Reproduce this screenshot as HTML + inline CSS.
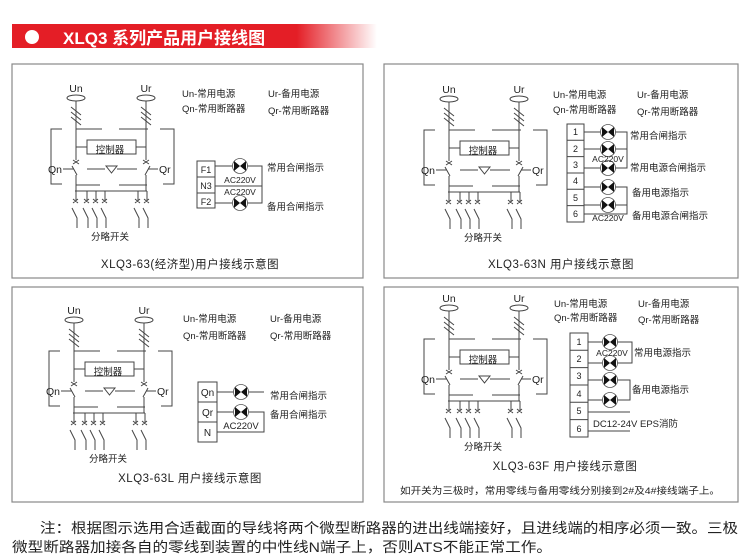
<!DOCTYPE html>
<html><head><meta charset="utf-8"><style>
html,body{margin:0;padding:0;background:#fff;}
svg{display:block;}
text{font-family:"Liberation Sans","Noto Sans CJK SC",sans-serif;fill:#222;}
</style></head><body>
<svg width="750" height="558" viewBox="0 0 750 558" xmlns="http://www.w3.org/2000/svg">
<defs>
<linearGradient id="rg" x1="0" x2="1">
<stop offset="0" stop-color="#e41e26"/><stop offset="0.78" stop-color="#e41e26"/><stop offset="1" stop-color="#fff"/>
</linearGradient>
<symbol id="circ" overflow="visible">
<g stroke="#444" stroke-width="1" fill="none">
<ellipse cx="76" cy="98" rx="9" ry="3"/>
<ellipse cx="146" cy="98" rx="9" ry="3"/>
<line x1="76" y1="101" x2="76" y2="160"/>
<line x1="146" y1="101" x2="146" y2="160"/>
<path d="M71 107 L81 115 M71 112 L81 120 M71 117 L81 125"/>
<path d="M141 107 L151 115 M141 112 L151 120 M141 117 L151 125"/>
<path d="M62 129 H51 V184 H62 M76 129 H102 M119 129 H148 M160 129 H174 V184 H163 M76 185 H100 M119 185 H147"/>
<rect x="87" y="140" width="49" height="14"/>
<line x1="76" y1="147" x2="87" y2="147"/><line x1="136" y1="147" x2="146" y2="147"/>
<path d="M73 160 l6 4 M79 160 l-6 4 M143 160 l6 4 M149 160 l-6 4"/>
<path d="M72 166 L77 175 M63 169 H74 M76 175 V191"/>
<path d="M150 166 L145 175 M148 169 H158 M146 175 V191"/>
<path d="M87 169 H105 M117 169 H137"/>
<polygon points="106,166 117,166 111.5,173"/>
<line x1="75" y1="191" x2="147" y2="191"/>
<path d="M76 191 V200 M87 191 V200 M96 191 V200 M105 191 V200 M138 191 V200 M147 191 V200"/>
<path d="M73 199 l5 4 M78 199 l-5 4 M84 199 l5 4 M89 199 l-5 4 M93 199 l5 4 M98 199 l-5 4 M102 199 l5 4 M107 199 l-5 4 M135 199 l5 4 M140 199 l-5 4 M144 199 l5 4 M149 199 l-5 4"/>
<path d="M72 208 L77 218 V228 M83 208 L88 218 V228 M92 208 L97 218 V228 M101 208 L106 218 V228 M134 208 L139 218 V228 M143 208 L148 218 V228"/>
</g>
</symbol>
<symbol id="lamp" overflow="visible">
<circle cx="0" cy="0" r="7.5" fill="#fff" stroke="#555" stroke-width="0.8"/>
<polygon points="-6,-5 0,0 -6,5" fill="#111"/><polygon points="6,-5 0,0 6,5" fill="#111"/>
</symbol>
</defs>

<!-- header -->
<rect x="12" y="24" width="365" height="24" fill="url(#rg)"/>
<circle cx="32" cy="37" r="7" fill="#fff"/>
<text x="63" y="44" font-size="17" font-weight="bold" style="fill:#fff">XLQ3 系列产品用户接线图</text>

<!-- panels -->
<g fill="none" stroke="#888" stroke-width="1.2">
<rect x="12" y="64" width="351" height="214"/>
<rect x="384" y="64" width="354" height="214"/>
<rect x="12" y="287" width="351" height="215"/>
<rect x="384" y="287" width="354" height="215"/>
</g>

<!-- Panel 1 -->
<use href="#circ" x="0" y="0"/>
<g font-size="10.5">
<text x="76" y="92" text-anchor="middle">Un</text>
<text x="146" y="92" text-anchor="middle">Ur</text>
<text x="110" y="153" text-anchor="middle" font-size="9.5">控制器</text>
<text x="62" y="173" text-anchor="end">Qn</text>
<text x="159" y="173">Qr</text>
<text x="110" y="240" text-anchor="middle" font-size="9.5">分略开关</text>
<text x="182" y="97" font-size="9.5">Un-常用电源</text>
<text x="182" y="112" font-size="9.5">Qn-常用断路器</text>
<text x="268" y="97" font-size="9.5">Ur-备用电源</text>
<text x="268" y="114" font-size="9.5">Qr-常用断路器</text>
<text x="190" y="268" text-anchor="middle" font-size="11.5" letter-spacing="0.5">XLQ3-63(经济型)用户接线示意图</text>
</g>
<g stroke="#444" fill="none">
<rect x="197" y="161" width="18" height="47"/>
<path d="M197 177 H215 M197 193 H215"/>
<path d="M215 166 H262 V203 H215 M215 186 H262"/>
</g>
<use href="#lamp" x="240" y="166"/><use href="#lamp" x="240" y="203"/>
<g font-size="9">
<text x="206" y="173" text-anchor="middle">F1</text>
<text x="206" y="189" text-anchor="middle">N3</text>
<text x="206" y="205" text-anchor="middle">F2</text>
<text x="240" y="183" text-anchor="middle" font-size="8.5">AC220V</text>
<text x="240" y="195" text-anchor="middle" font-size="8.5">AC220V</text>
<text x="267" y="171" font-size="9.5">常用合闸指示</text>
<text x="267" y="210" font-size="9.5">备用合闸指示</text>
</g>

<!-- Panel 2 -->
<use href="#circ" x="373" y="1"/>
<g font-size="10.5">
<text x="449" y="93" text-anchor="middle">Un</text>
<text x="519" y="93" text-anchor="middle">Ur</text>
<text x="483" y="154" text-anchor="middle" font-size="9.5">控制器</text>
<text x="435" y="174" text-anchor="end">Qn</text>
<text x="532" y="174">Qr</text>
<text x="483" y="241" text-anchor="middle" font-size="9.5">分略开关</text>
<text x="553" y="98" font-size="9.5">Un-常用电源</text>
<text x="553" y="113" font-size="9.5">Qn-常用断路器</text>
<text x="637" y="98" font-size="9.5">Ur-备用电源</text>
<text x="637" y="115" font-size="9.5">Qr-常用断路器</text>
<text x="561" y="268" text-anchor="middle" font-size="11.5" letter-spacing="0.5">XLQ3-63N 用户接线示意图</text>
</g>
<g stroke="#444" fill="none">
<rect x="567" y="124" width="17" height="98"/>
<path d="M567 140.3 H584 M567 156.6 H584 M567 173 H584 M567 189.3 H584 M567 205.6 H584"/>
<path d="M584 132 H627 V168 H584 M584 149 H627 M584 187 H627 V214 H584 M584 205 H627"/>
</g>
<use href="#lamp" x="608" y="132"/><use href="#lamp" x="608" y="149"/><use href="#lamp" x="608" y="168"/><use href="#lamp" x="608" y="187"/><use href="#lamp" x="608" y="205"/>
<g font-size="9">
<text x="575.5" y="135" text-anchor="middle">1</text>
<text x="575.5" y="152" text-anchor="middle">2</text>
<text x="575.5" y="168" text-anchor="middle">3</text>
<text x="575.5" y="184" text-anchor="middle">4</text>
<text x="575.5" y="201" text-anchor="middle">5</text>
<text x="575.5" y="217" text-anchor="middle">6</text>
<text x="608" y="162" text-anchor="middle" font-size="8.5">AC220V</text>
<text x="608" y="221" text-anchor="middle" font-size="8.5">AC220V</text>
<text x="630" y="139" font-size="9.5">常用合闸指示</text>
<text x="630" y="171" font-size="9.5">常用电源合闸指示</text>
<text x="632" y="196" font-size="9.5">备用电源指示</text>
<text x="632" y="219" font-size="9.5">备用电源合闸指示</text>
</g>

<!-- Panel 3 -->
<use href="#circ" x="-2" y="222"/>
<g font-size="10.5">
<text x="74" y="314" text-anchor="middle">Un</text>
<text x="144" y="314" text-anchor="middle">Ur</text>
<text x="108" y="375" text-anchor="middle" font-size="9.5">控制器</text>
<text x="60" y="395" text-anchor="end">Qn</text>
<text x="157" y="395">Qr</text>
<text x="108" y="462" text-anchor="middle" font-size="9.5">分略开关</text>
<text x="183" y="322" font-size="9.5">Un-常用电源</text>
<text x="183" y="339" font-size="9.5">Qn-常用断路器</text>
<text x="270" y="322" font-size="9.5">Ur-备用电源</text>
<text x="270" y="339" font-size="9.5">Qr-常用断路器</text>
<text x="190" y="482" text-anchor="middle" font-size="11.5" letter-spacing="0.5">XLQ3-63L 用户接线示意图</text>
</g>
<g stroke="#444" fill="none">
<rect x="198" y="382" width="19" height="60"/>
<path d="M198 402 H217 M198 422 H217"/>
<path d="M217 392 H264 M217 412 H264 V432 H217"/>
</g>
<use href="#lamp" x="241" y="392"/><use href="#lamp" x="241" y="412"/>
<g font-size="10">
<text x="207.5" y="396" text-anchor="middle">Qn</text>
<text x="207.5" y="416" text-anchor="middle">Qr</text>
<text x="207.5" y="436" text-anchor="middle">N</text>
<text x="241" y="429" text-anchor="middle" font-size="9.5">AC220V</text>
<text x="270" y="399" font-size="9.5">常用合闸指示</text>
<text x="270" y="418" font-size="9.5">备用合闸指示</text>
</g>

<!-- Panel 4 -->
<use href="#circ" x="373" y="210"/>
<g font-size="10.5">
<text x="449" y="302" text-anchor="middle">Un</text>
<text x="519" y="302" text-anchor="middle">Ur</text>
<text x="483" y="363" text-anchor="middle" font-size="9.5">控制器</text>
<text x="435" y="383" text-anchor="end">Qn</text>
<text x="532" y="383">Qr</text>
<text x="483" y="450" text-anchor="middle" font-size="9.5">分略开关</text>
<text x="554" y="307" font-size="9.5">Un-常用电源</text>
<text x="554" y="321" font-size="9.5">Qn-常用断路器</text>
<text x="638" y="307" font-size="9.5">Ur-备用电源</text>
<text x="638" y="323" font-size="9.5">Qr-常用断路器</text>
<text x="565" y="470" text-anchor="middle" font-size="11.5" letter-spacing="0.5">XLQ3-63F 用户接线示意图</text>
<text x="400" y="494" font-size="9.5" textLength="320" lengthAdjust="spacingAndGlyphs">如开关为三极时，常用零线与备用零线分别接到2#及4#接线端子上。</text>
</g>
<g stroke="#444" fill="none">
<rect x="570" y="333" width="18" height="104"/>
<path d="M570 350.3 H588 M570 367.6 H588 M570 385 H588 M570 402.3 H588 M570 419.6 H588"/>
<path d="M588 342 H632 V363 H588 M588 380 H630 V400 H588 M588 412 H630 M588 431 H630"/>
</g>
<use href="#lamp" x="610" y="342"/><use href="#lamp" x="610" y="363"/><use href="#lamp" x="610" y="380"/><use href="#lamp" x="610" y="400"/>
<g font-size="9">
<text x="579" y="345" text-anchor="middle">1</text>
<text x="579" y="362" text-anchor="middle">2</text>
<text x="579" y="379" text-anchor="middle">3</text>
<text x="579" y="397" text-anchor="middle">4</text>
<text x="579" y="414" text-anchor="middle">5</text>
<text x="579" y="432" text-anchor="middle">6</text>
<text x="612" y="356" text-anchor="middle" font-size="8.5">AC220V</text>
<text x="634" y="356" font-size="9.5">常用电源指示</text>
<text x="632" y="393" font-size="9.5">备用电源指示</text>
<text x="593" y="427" font-size="9.5">DC12-24V EPS消防</text>
</g>

<!-- footer -->
<text x="40" y="533" font-size="14" textLength="698" lengthAdjust="spacingAndGlyphs">注：根据图示选用合适截面的导线将两个微型断路器的进出线端接好，且进线端的相序必须一致。三极</text>
<text x="12" y="552" font-size="14" textLength="540" lengthAdjust="spacingAndGlyphs">微型断路器加接各自的零线到装置的中性线N端子上，否则ATS不能正常工作。</text>
</svg>
</body></html>
